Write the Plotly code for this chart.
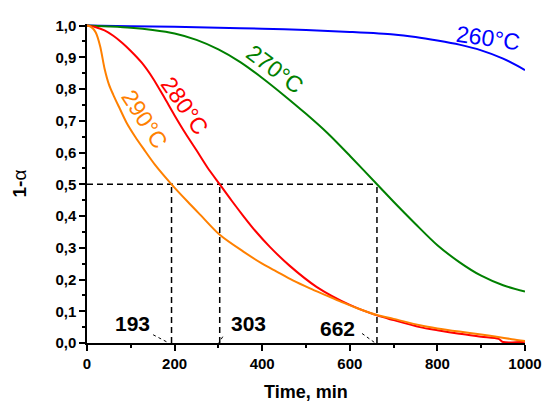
import plotly.graph_objects as go

# ---- data ----
blue_t = [0, 100, 200, 300, 400, 500, 600, 700, 750, 800, 850, 900, 950, 1000]
blue_v = [1.0, 0.998, 0.996, 0.993, 0.99, 0.986, 0.98, 0.972, 0.964, 0.953, 0.94, 0.922, 0.896, 0.86]

green_t = [0, 50, 100, 150, 200, 250, 300, 350, 400, 450, 500, 550, 600, 662, 700, 750, 800, 850, 900, 950, 1000]
green_v = [1.0, 0.997, 0.993, 0.986, 0.975, 0.955, 0.925, 0.885, 0.835, 0.78, 0.722, 0.66, 0.59, 0.5, 0.445, 0.375, 0.308, 0.255, 0.212, 0.182, 0.162]

red_t = [0, 20, 40, 60, 80, 100, 125, 150, 175, 200, 225, 250, 275, 303, 330, 357, 385, 418, 463, 524, 600, 662, 700, 760, 800, 850, 900, 940, 950, 1000]
red_v = [1.0, 0.995, 0.985, 0.968, 0.946, 0.92, 0.883, 0.835, 0.777, 0.717, 0.66, 0.607, 0.553, 0.5, 0.449, 0.4, 0.352, 0.302, 0.243, 0.177, 0.12, 0.087, 0.072, 0.05, 0.04, 0.029, 0.02, 0.013, 0.003, 0.004]

orange_t = [0, 10, 20, 30, 40, 50, 60, 75, 90, 110, 130, 155, 193, 230, 260, 303, 357, 400, 433, 470, 509, 550, 585, 620, 662, 700, 760, 800, 850, 900, 935, 970, 1000]
orange_v = [1.0, 0.995, 0.978, 0.935, 0.865, 0.815, 0.782, 0.738, 0.695, 0.65, 0.61, 0.562, 0.5, 0.445, 0.402, 0.341, 0.288, 0.25, 0.225, 0.197, 0.172, 0.148, 0.127, 0.108, 0.088, 0.076, 0.056, 0.046, 0.036, 0.027, 0.02, 0.012, 0.006]

series_names = ["260°C", "270°C", "280°C", "290°C"]
half_times = [193, 303, 662]
half_level = 0.5

x_tickvals = [0, 200, 400, 600, 800, 1000]
x_ticktext = ["0", "200", "400", "600", "800", "1000"]
y_tickvals = [0.0, 0.1, 0.2, 0.3, 0.4, 0.5, 0.6, 0.7, 0.8, 0.9, 1.0]
y_ticktext = ["0,0", "0,1", "0,2", "0,3", "0,4", "0,5", "0,6", "0,7", "0,8", "0,9", "1,0"]

colors = ["#0000FF", "#008000", "#FF0000", "#FF8000"]
FONT = "Liberation Sans, Arial, sans-serif"

fig = go.Figure()

# dashed guide lines (drawn first, below curves)
for th in half_times:
    fig.add_trace(go.Scatter(x=[th, th], y=[0, half_level], mode="lines",
                             line=dict(color="black", width=1.5, dash="6px,4px"),
                             hoverinfo="skip", showlegend=False))
fig.add_trace(go.Scatter(x=[0, max(half_times)], y=[half_level, half_level], mode="lines",
                         line=dict(color="black", width=1.5, dash="6px,4px"),
                         hoverinfo="skip", showlegend=False))

for t, v, c, n in zip([blue_t, green_t, red_t, orange_t], [blue_v, green_v, red_v, orange_v], colors, series_names):
    fig.add_trace(go.Scatter(x=t, y=v, mode="lines", name=n,
                             line=dict(color=c, width=2, shape="spline", smoothing=0.8),
                             showlegend=False))

# leader lines for the half-time labels
leader_offsets = [(-42, 0.026, -6), (7, 0.02, -2), (-34, 0.03, -4)]
for th, (dx0, y0, dx1) in zip(half_times, leader_offsets):
    fig.add_shape(type="line", x0=th + dx0, y0=y0, x1=th + dx1, y1=0,
                  line=dict(color="black", width=1, dash="3px,3px"))

# curve labels
label_pos = [(915, 0.962, 8), (429, 0.864, 37), (224, 0.748, 55), (132, 0.707, 57)]
for (x, y, ang), txt, c in zip(label_pos, series_names, colors):
    fig.add_annotation(x=x, y=y, text=txt, showarrow=False, textangle=ang,
                       xanchor="center", yanchor="middle",
                       font=dict(family=FONT, size=23, color=c))

# half-time value labels
num_pos = [(105, 0.06), (368, 0.063), (571, 0.047)]
for (x, y), th in zip(num_pos, half_times):
    fig.add_annotation(x=x, y=y, text=f"<b>{th}</b>", showarrow=False,
                       xanchor="center", yanchor="middle",
                       font=dict(family=FONT, size=21, color="black"))

# axis titles
fig.add_annotation(xref="paper", yref="paper", x=0.5, y=-0.1536, text="<b>Time, min</b>",
                   showarrow=False, xanchor="center", yanchor="middle",
                   font=dict(family=FONT, size=18, color="black"))
fig.add_annotation(xref="paper", yref="paper", x=-0.153, y=0.5, text="<b>1-</b>α",
                   showarrow=False, xanchor="center", yanchor="middle", textangle=-90,
                   font=dict(family=FONT, size=19, color="black"))

axis_common = dict(showline=True, linecolor="black", linewidth=1.5, showgrid=False, zeroline=False,
                   ticks="outside", ticklen=6, tickwidth=1.5, tickcolor="black", automargin=False,
                   tickfont=dict(family=FONT, size=15, color="black", weight="bold"))

fig.update_xaxes(range=[0, 1000], tickvals=x_tickvals, ticktext=x_ticktext,
                 minor=dict(dtick=100, ticks="outside", ticklen=3, tickwidth=1.5, tickcolor="black"),
                 **axis_common)
fig.update_yaxes(range=[0, 1.005], tickvals=y_tickvals, ticktext=y_ticktext,
                 minor=dict(dtick=0.05, tick0=0, ticks="outside", ticklen=3, tickwidth=1.5, tickcolor="black"),
                 **axis_common)

fig.update_layout(width=544, height=401, margin=dict(l=87, r=19, t=24, b=58),
                  plot_bgcolor="white", paper_bgcolor="white", showlegend=False)

fig.write_html("out.html")
